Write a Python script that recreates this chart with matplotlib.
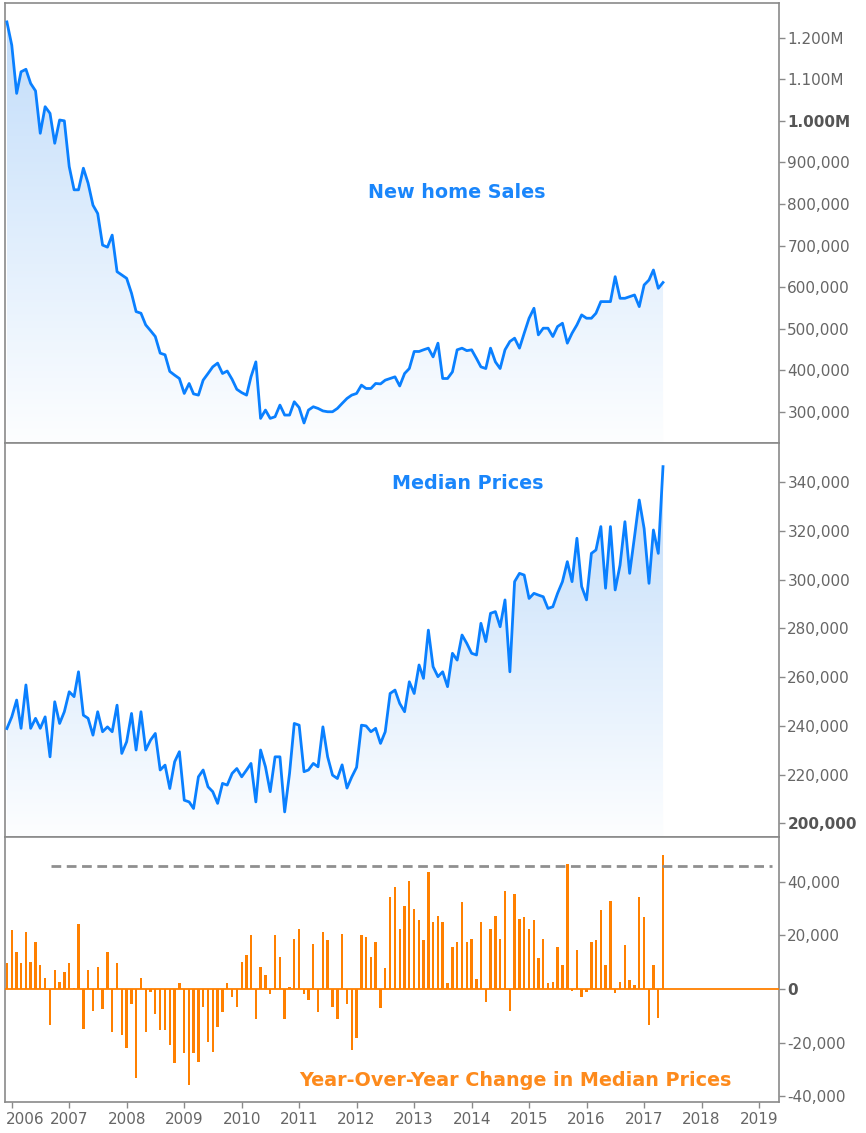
import numpy as np
import pandas as pd
import matplotlib
matplotlib.use("Agg")
import matplotlib.pyplot as plt
import matplotlib.dates as mdates
import matplotlib.colors as mcolors
import matplotlib.transforms as mtransforms

plt.rcParams['font.family'] = ['DejaVu Sans']

# monthly series, Dec 2005 .. May 2017 (values in thousands)
start_month = "2005-12-01"

home_sales = [1238, 1182, 1066, 1118, 1124, 1090, 1072, 970, 1034, 1018,
              946, 1002, 1000, 890, 834, 834, 886, 850, 797, 777,
              701, 696, 725, 637, 629, 621, 585, 541, 537, 509,
              495, 481, 441, 437, 397, 388, 380, 344, 368, 343,
              340, 376, 392, 408, 417, 392, 398, 378, 354, 346,
              340, 384, 420, 284, 304, 284, 288, 316, 292, 292,
              324, 310, 273, 304, 312, 308, 302, 300, 300, 308,
              320, 332, 340, 344, 364, 356, 356, 368, 367, 376,
              380, 384, 362, 392, 404, 445, 445, 449, 453, 432,
              465, 380, 380, 396, 449, 453, 447, 449, 428, 408,
              404, 453, 420, 404, 449, 469, 477, 453, 489, 525,
              549, 485, 501, 501, 481, 505, 513, 465, 489, 509,
              533, 525, 525, 537, 565, 565, 565, 625, 573, 573,
              577, 581, 553, 605, 617, 641, 597, 611]

median_prices = [238.9, 243.7, 250.6, 239.0, 256.8, 239.0, 243.1, 239.0, 243.7, 227.3,
                 249.9, 241.0, 245.8, 254.0, 252.0, 262.2, 244.4, 243.1, 236.2, 245.8,
                 237.6, 239.6, 237.6, 248.5, 228.7, 233.5, 245.1, 230.1, 245.8, 230.1,
                 234.2, 236.9, 221.9, 223.9, 214.3, 225.3, 229.4, 209.5, 208.8, 206.1,
                 219.1, 221.9, 215.0, 213.0, 208.2, 216.4, 215.7, 220.5, 222.5, 219.1,
                 221.9, 224.6, 208.8, 230.1, 223.2, 213.0, 227.3, 227.3, 204.7, 220.5,
                 241.0, 240.3, 221.2, 221.9, 224.6, 223.2, 239.6, 227.3, 219.8, 218.4,
                 224.0, 214.5, 219.0, 223.0, 240.3, 240.0, 237.6, 239.0, 232.8, 237.6,
                 253.3, 254.7, 249.2, 245.8, 258.1, 253.3, 265.0, 259.5, 279.3, 264.3,
                 260.2, 262.2, 256.1, 269.8, 267.0, 277.3, 273.9, 269.8, 269.1, 282.1,
                 274.6, 286.2, 286.9, 280.7, 291.7, 262.2, 299.2, 302.6, 301.9, 292.3,
                 294.4, 293.7, 293.0, 288.2, 288.9, 294.4, 299.2, 307.4, 299.2, 317.0,
                 297.2, 291.7, 310.8, 312.2, 321.8, 296.5, 321.8, 295.8, 306.0, 323.8,
                 302.6, 317.7, 332.7, 321.0, 298.5, 320.4, 310.8, 346.4]

yoy_change = [9.5, 21.9, 13.8, 9.5, 21.2, 10.1, 17.5, 8.9, 4.0, -13.6,
              7.0, 2.7, 6.4, 9.5, 0.4, 24.3, -14.8, 7.0, -8.1, 8.3,
              -7.4, 13.8, -16.0, 9.5, -17.3, -22.2, -5.6, -33.3, 4.0, -16.0,
              -1.2, -9.4, -15.4, -15.4, -21.0, -27.8, 2.1, -24.0, -35.8, -24.0,
              -27.2, -6.8, -19.8, -23.5, -14.2, -8.6, 2.1, -3.1, -6.8, 10.1,
              12.6, 20.0, -11.1, 8.3, 5.2, -1.9, 20.0, 12.0, -11.1, 0.9,
              18.8, 22.5, -1.9, -4.3, 16.9, -8.6, 21.2, 18.1, -6.8, -11.1,
              20.6, -5.6, -22.8, -18.5, 20.0, 19.4, 12.0, 17.5, -7.2, 7.7,
              34.2, 37.9, 22.5, 31.1, 40.4, 29.9, 25.6, 18.1, 43.5, 24.9,
              27.4, 24.9, 2.1, 15.7, 17.5, 32.3, 17.5, 18.8, 3.6, 24.9,
              -4.7, 22.5, 27.4, 18.8, 36.7, -8.4, 35.5, 26.2, 26.8, 22.5,
              25.6, 11.4, 18.8, 2.1, 2.7, 15.7, 8.9, 46.5, -0.6, 14.4,
              -3.1, -1.2, 17.5, 18.1, 29.3, 8.9, 33.0, -1.4, 2.7, 16.3,
              3.3, 1.5, 34.2, 26.8, -13.6, 8.9, -10.9, 50.0]

# reference level drawn across the change panel
yoy_ref_level = 45.9
yoy_ref_span = ["2006-09-05", "2019-03-22"]

sales_ticks = [300, 400, 500, 600, 700, 800, 900, 1000, 1100, 1200]
price_ticks = [200, 220, 240, 260, 280, 300, 320, 340]
change_ticks = [-40, -20, 0, 20, 40]
year_ticks = list(range(2006, 2020))
bold_labels = ["1.000M", "200,000", "0"]

titles = ["New home Sales", "Median Prices", "Year-Over-Year Change in Median Prices"]

BLUE = "#0a80ff"
BLUE_TXT = "#1a86fb"
ORANGE = "#ff8000"
ORANGE_TXT = "#fd8a1c"
SPINE = "#8a8a8a"
TICKTXT = "#666666"
LABEL_SIZE = 11


def fmt_k(v):
    '''thousands -> label text as in the original terminal chart'''
    if abs(v) >= 1000:
        return "%.3fM" % (v / 1000.0)
    return "{:,.0f}".format(v * 1000)


def gradient_under(ax, x, y, floor):
    '''light blue vertical gradient clipped to the area under the line'''
    fill = ax.fill_between(x, y, floor, facecolor="none", edgecolor="none")
    path = fill.get_paths()[0]
    top = np.array(mcolors.to_rgb("#c2ddfa"))
    bottom = np.array(mcolors.to_rgb("#fdfeff"))
    t = np.linspace(1, 0, 256)[:, None, None]
    img = bottom + (top - bottom) * t
    xn = mdates.date2num(x)
    im = ax.imshow(img, extent=[xn[0], xn[-1], floor, max(y)], aspect="auto",
                   origin="upper", zorder=1, interpolation="bilinear")
    im.set_clip_path(path, transform=ax.transData)


def style_axis(ax, ticks, ylim):
    ax.set_ylim(*ylim)
    ax.yaxis.tick_right()
    ax.set_yticks(ticks, [fmt_k(v) for v in ticks])
    ax.tick_params(axis="y", direction="out", length=4, width=1, color=SPINE,
                   pad=2, labelsize=LABEL_SIZE, labelcolor=TICKTXT)
    for lbl in ax.get_yticklabels():
        if lbl.get_text() in bold_labels:
            lbl.set_fontweight("bold")
            lbl.set_color("#555555")
    for sp in ax.spines.values():
        sp.set_color(SPINE)
        sp.set_linewidth(1.2)


dates = pd.date_range(start_month, periods=len(home_sales), freq="MS")
xlim = (pd.Timestamp("2005-11-19"), pd.Timestamp("2019-05-08"))

W, H = 866, 1133
fig = plt.figure(figsize=(W / 100, H / 100), dpi=100)


def px_axes(x0, y0, x1, y1, **kw):
    return fig.add_axes([x0 / W, 1 - y1 / H, (x1 - x0) / W, (y1 - y0) / H], **kw)


ax1 = px_axes(5, 3, 779, 443)
ax2 = px_axes(5, 443, 779, 837, sharex=ax1)
ax3 = px_axes(5, 837, 779, 1102, sharex=ax1)

# new home sales
ax1.plot(dates, home_sales, color=BLUE, lw=2, zorder=3)
gradient_under(ax1, dates, home_sales, 224.8)
style_axis(ax1, sales_ticks, (224.8, 1283.5))

# median prices
ax2.plot(dates, median_prices, color=BLUE, lw=2, zorder=3)
gradient_under(ax2, dates, median_prices, 194.4)
style_axis(ax2, price_ticks, (194.4, 356.1))

# year over year change
ax3.bar(dates, yoy_change, width=15, color=ORANGE, zorder=2)
ax3.axhline(0, color=ORANGE, lw=1.3, zorder=3)
ax3.hlines(yoy_ref_level, pd.Timestamp(yoy_ref_span[0]), pd.Timestamp(yoy_ref_span[1]),
           color="#8f8f8f", lw=2, linestyles=(0, (3.5, 2)), zorder=4)
style_axis(ax3, change_ticks, (-42.2, 56.7))

for ax in (ax1, ax2):
    ax.tick_params(axis="x", bottom=False, labelbottom=False)

ax3.set_xlim(*xlim)
ax3.set_xticks([pd.Timestamp("%d-01-01" % y) for y in year_ticks],
               [str(y) for y in year_ticks])
ax3.tick_params(axis="x", direction="out", length=4, width=1, color=SPINE,
                pad=3, labelsize=LABEL_SIZE, labelcolor=TICKTXT)
# the first year label sits right of its tick so it is not cut at the edge
first = ax3.get_xticklabels()[0]
first.set_transform(first.get_transform() +
                    mtransforms.ScaledTranslation(0.13, 0, fig.dpi_scale_trans))

ax1.text(0.584, 0.570, titles[0], transform=ax1.transAxes, ha="center", va="center",
         color=BLUE_TXT, fontsize=13.8, fontweight="bold")
ax2.text(0.5975, 0.896, titles[1], transform=ax2.transAxes, ha="center", va="center",
         color=BLUE_TXT, fontsize=13.8, fontweight="bold")
ax3.text(0.659, 0.083, titles[2], transform=ax3.transAxes, ha="center", va="center",
         color=ORANGE_TXT, fontsize=13.8, fontweight="bold")

fig.savefig("out.png", dpi=100)
